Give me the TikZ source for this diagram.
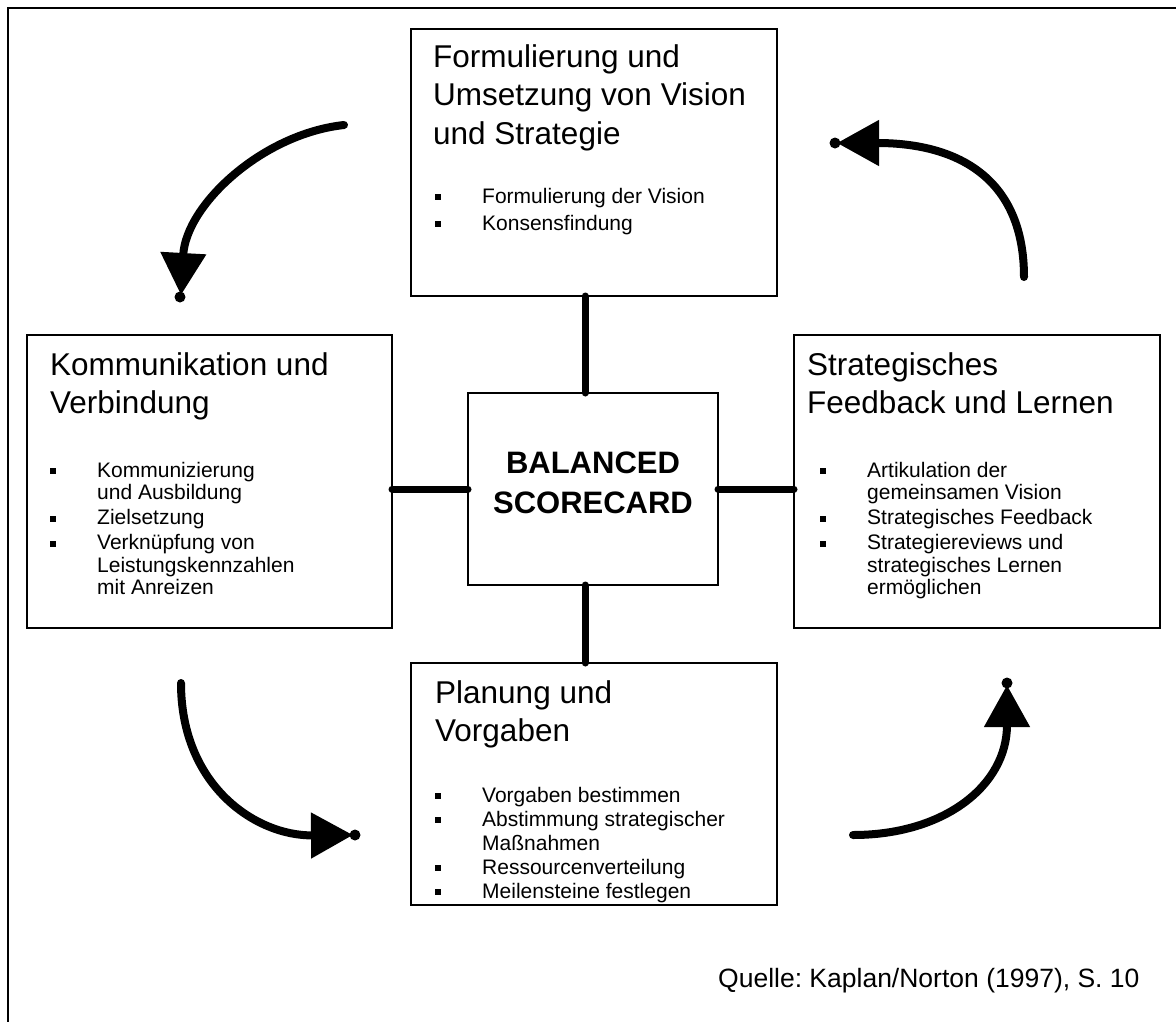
\documentclass[tikz,border=0pt]{standalone}
\usepackage{fontspec}
\setmainfont{Liberation Sans}
\usetikzlibrary{arrows.meta,calc}
\frenchspacing

% bullet marker and continuation indent for the item lists
\newcommand{\bulletmark}{\makebox[47pt][l]{\rule[3pt]{6pt}{6pt}}}
\newcommand{\contindent}{\hspace*{47pt}}

\tikzset{
  box/.style={draw, line width=1.8pt, inner sep=0pt, outer sep=0pt, anchor=north west},
  title/.style={inner sep=0pt, anchor=base west, font=\fontsize{31.5}{38.5}\selectfont},
  items/.style={inner sep=0pt, anchor=base west, font=\fontsize{21}{22.5}\selectfont},
  link/.style={line width=7pt, line cap=round},
  cycle/.style={line width=8pt, line cap=round, -{Triangle[length=42pt,width=44pt]}},
  tipdot/.style={fill=black, draw=none}
}

\begin{document}
\begin{tikzpicture}[x=1pt,y=-1pt]
\useasboundingbox (0,0) rectangle (1176,1021);

% outer frame (only top and left edges lie inside the page)
\draw[line width=2.6pt] (8,1030) -- (8,8) -- (1180,8);

% boxes
\node[box, minimum width=366pt, minimum height=267pt] (tb) at (411,29) {};
\node[box, minimum width=365pt, minimum height=293pt] (lb) at (27,335) {};
\node[box, minimum width=366pt, minimum height=293pt] (rb) at (794,335) {};
\node[box, minimum width=366pt, minimum height=242pt] (bb) at (411,663) {};
\node[box, minimum width=250pt, minimum height=192pt] (cb) at (468,393) {};

% top box
\node[title] (tbT) at (433,67) {\parbox[t]{340pt}{Formulierung und\\Umsetzung von Vision\\und Strategie}};
\node[items] (tbL) at (435,203) {\parbox[t]{330pt}{\bulletmark Formulierung der Vision\\[4.5pt]\bulletmark Konsensfindung}};

% left box
\node[title] (lbT) at (50,375) {\parbox[t]{340pt}{Kommunikation und\\Verbindung}};
\node[items] (lbL) at (50,477) {\parbox[t]{330pt}{\bulletmark Kommunizierung\\\contindent und Ausbildung\\[2.5pt]\bulletmark Zielsetzung\\[2.5pt]\bulletmark Verknüpfung von\\\contindent Leistungskennzahlen\\\contindent mit Anreizen}};

% right box
\node[title] (rbT) at (807,375) {\parbox[t]{340pt}{Strategisches\\Feedback und Lernen}};
\node[items] (rbL) at (820,477) {\parbox[t]{330pt}{\bulletmark Artikulation der\\\contindent gemeinsamen Vision\\[2.5pt]\bulletmark Strategisches Feedback\\[2.5pt]\bulletmark Strategiereviews und\\\contindent strategisches Lernen\\\contindent ermöglichen}};

% bottom box
\node[title] (bbT) at (435,703) {\parbox[t]{340pt}{Planung und\\Vorgaben}};
\node[items] (bbL) at (435,802) {\parbox[t]{330pt}{\bulletmark Vorgaben bestimmen\\[1.5pt]\bulletmark Abstimmung strategischer\\[1.5pt]\contindent Maßnahmen\\[1.5pt]\bulletmark Ressourcenverteilung\\[1.5pt]\bulletmark Meilensteine festlegen}};

% centre
\node[inner sep=0pt, anchor=base, font=\bfseries\fontsize{31}{40}\selectfont] (cbT) at (593,473)
  {\parbox[t]{240pt}{\centering BALANCED\\SCORECARD}};

% source line
\node[inner sep=0pt, anchor=base west, font=\fontsize{26.5}{30}\selectfont] (src) at (718,987)
  {Quelle: Kaplan/Norton (1997), S. 10};

% links to the centre
\coordinate (vx) at (585,0);
\draw[link] (tb.south -| vx) -- (cb.north -| vx);
\draw[link] (cb.south -| vx) -- (bb.north -| vx);
\draw[link] (lb.east |- cb.west) -- (cb.west);
\draw[link] (cb.east) -- (rb.west |- cb.east);

% cycle arrows
\coordinate (a1s) at (344,125);  \coordinate (a1e) at (181,295);
\coordinate (a2s) at (1024,277); \coordinate (a2e) at (837,143);
\coordinate (a3s) at (181,683);  \coordinate (a3e) at (353,835);
\coordinate (a4s) at (853,835);  \coordinate (a4e) at (1007,685);

\draw[cycle] (a1s) .. controls (262,134) and (186,205) .. (a1e);
\draw[cycle] (a2s) .. controls (1024,180) and (960,143) .. (a2e);
\draw[cycle] (a3s) .. controls (181,785) and (255,836) .. (a3e);
\draw[cycle] (a4s) .. controls (945,835) and (1007,785) .. (a4e);

\fill[tipdot] (180,297) circle (5.5);
\fill[tipdot] (835,143) circle (5.5);
\fill[tipdot] (355,835) circle (5.5);
\fill[tipdot] (1007,683) circle (5.5);
\end{tikzpicture}
\end{document}
